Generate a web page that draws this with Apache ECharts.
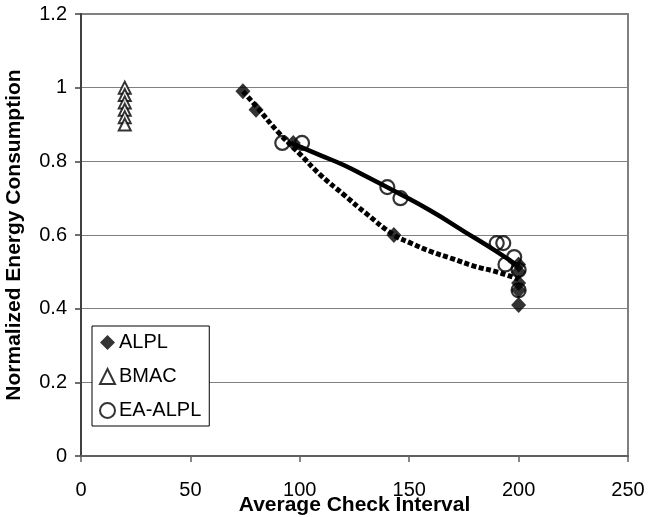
<!DOCTYPE html>
<html><head><meta charset="utf-8">
<script src="https://cdn.jsdelivr.net/npm/echarts@6/dist/echarts.min.js"></script>
<style>html,body{margin:0;padding:0;background:#fff}#c{width:648px;height:517px}</style>
</head><body><div id="c"></div>
<script>
const alplX = [74, 80, 97, 143, 200, 200, 200, 200, 200];
const alplY = [0.99, 0.94, 0.85, 0.60, 0.52, 0.50, 0.47, 0.45, 0.41];
const bmacX = [20, 20, 20, 20, 20, 20];
const bmacY = [1.0, 0.98, 0.96, 0.94, 0.92, 0.90];
const eaX = [92, 101, 140, 146, 190, 193, 198, 194, 200, 200];
const eaY = [0.85, 0.85, 0.73, 0.70, 0.578, 0.578, 0.54, 0.52, 0.505, 0.45];
const alplTrendX = [74, 80, 90, 100, 110, 120, 130, 143, 150, 160, 170, 180, 190, 200];
const alplTrendY = [0.99, 0.95, 0.88, 0.82, 0.76, 0.71, 0.66, 0.60, 0.58, 0.555, 0.535, 0.515, 0.50, 0.48];
const eaTrendX = [96, 110, 120, 130, 143, 160, 175, 190, 200];
const eaTrendY = [0.85, 0.815, 0.79, 0.76, 0.72, 0.665, 0.61, 0.555, 0.515];
const xTicks = [0, 50, 100, 150, 200, 250];
const yTicks = [0, 0.2, 0.4, 0.6, 0.8, 1, 1.2];

const zip = (xs, ys) => xs.map((x, i) => [x, ys[i]]);
const FONT = 'Liberation Sans';
const chart = echarts.init(document.getElementById('c'), null, {renderer: 'canvas'});
chart.setOption({
  animation: false,
  backgroundColor: '#fff',
  textStyle: {fontFamily: FONT},
  grid: {left: 81, right: 20, top: 14, bottom: 61, show: true, borderColor: '#808080', borderWidth: 2,
         outerBoundsMode: 'none'},
  legend: {
    data: ['ALPL', 'BMAC', 'EA-ALPL'],
    orient: 'vertical', left: 92, top: 326,
    borderColor: '#000', borderWidth: 1,
    padding: [6, 8, 5, 7], itemGap: 13,
    itemWidth: 15, itemHeight: 15,
    textStyle: {fontFamily: FONT, fontSize: 20, lineHeight: 21, color: '#000', padding: [0, 0, 0, -1]},
    backgroundColor: '#fff'
  },
  xAxis: {
    type: 'value', min: 0, max: 250, interval: 50,
    name: 'Average Check Interval', nameLocation: 'middle', nameGap: 38, nameMoveOverlap: false,
    nameTextStyle: {fontFamily: FONT, fontSize: 21, fontWeight: 'bold', color: '#000', verticalAlign: 'top', lineHeight: 22},
    axisLine: {show: true, lineStyle: {color: '#606060', width: 2}},
    axisTick: {show: true, length: 6, lineStyle: {color: '#606060', width: 1.5}},
    axisLabel: {fontFamily: FONT, fontSize: 20, color: '#000', margin: 24,
      formatter: v => xTicks.includes(v) ? String(v) : ''},
    splitLine: {show: false}
  },
  yAxis: {
    type: 'value', min: 0, max: 1.2, interval: 0.2,
    name: 'Normalized Energy Consumption', nameLocation: 'middle', nameGap: 56, nameMoveOverlap: false,
    nameTextStyle: {fontFamily: FONT, fontSize: 21, fontWeight: 'bold', color: '#000'},
    axisLine: {show: true, lineStyle: {color: '#404040', width: 2}},
    axisTick: {show: true, length: 6, lineStyle: {color: '#404040', width: 1.5}},
    axisLabel: {fontFamily: FONT, fontSize: 20, color: '#000', margin: 14,
      formatter: v => { const t = yTicks.find(k => Math.abs(k - v) < 1e-6); return t === undefined ? '' : String(t); }},
    splitLine: {show: true, lineStyle: {color: '#808080', width: 1.2}}
  },
  series: [
    {name: 'ALPL trend', type: 'line', data: zip(alplTrendX, alplTrendY), smooth: true, symbol: 'none',
     lineStyle: {color: '#000', width: 5, type: [5, 2.5], cap: 'butt'}, z: 2},
    {name: 'EA trend', type: 'line', data: zip(eaTrendX, eaTrendY), smooth: true, symbol: 'none',
     lineStyle: {color: '#000', width: 4.5}, z: 2},
    {name: 'ALPL', type: 'scatter', data: zip(alplX, alplY), symbol: 'diamond', symbolSize: [15, 16],
     itemStyle: {color: '#000'}, z: 3},
    {name: 'BMAC', type: 'scatter', data: zip(bmacX, bmacY), symbol: 'triangle', symbolSize: 12,
     itemStyle: {color: '#fff', borderColor: '#000', borderWidth: 2}, z: 3},
    {name: 'EA-ALPL', type: 'scatter', data: zip(eaX, eaY), symbol: 'circle', symbolSize: 14,
     itemStyle: {color: 'rgba(255,255,255,0)', borderColor: '#000', borderWidth: 2.2}, z: 4}
  ]
});
</script></body></html>
